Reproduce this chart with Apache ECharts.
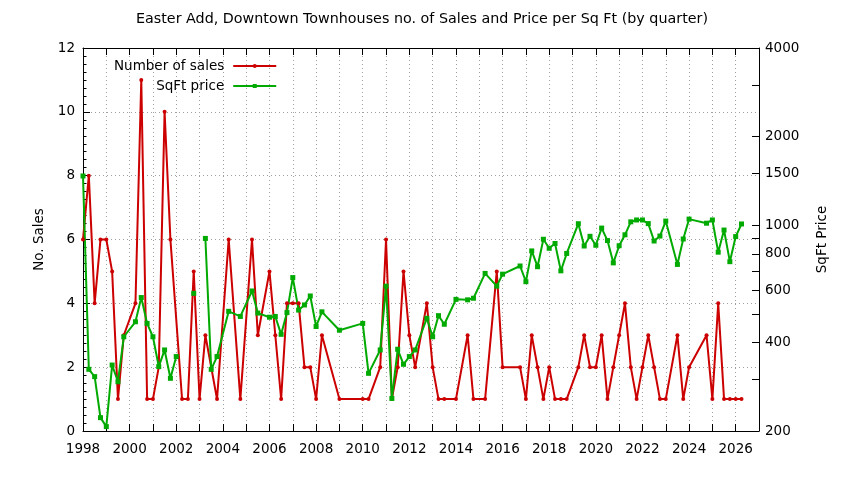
<!DOCTYPE html>
<html>
<head>
<meta charset="utf-8">
<script src="https://cdn.jsdelivr.net/npm/echarts@6/dist/echarts.min.js"></script>
<style>
  html, body { margin: 0; padding: 0; background: #fff; }
  #chart { width: 844px; height: 480px; }
</style>
</head>
<body>
<div id="chart"></div>
<script>
// quarterly sales counts
const salesYears = [
  1998.0, 1998.25, 1998.5, 1998.75,
  1999.0, 1999.25, 1999.5, 1999.75,
  2000.25, 2000.5, 2000.75,
  2001.0, 2001.25, 2001.5, 2001.75,
  2002.25, 2002.5, 2002.75,
  2003.0, 2003.25, 2003.75,
  2004.25, 2004.75,
  2005.25, 2005.5,
  2006.0, 2006.25, 2006.5, 2006.75,
  2007.0, 2007.25, 2007.5, 2007.75,
  2008.0, 2008.25,
  2009.0,
  2010.0, 2010.25, 2010.75,
  2011.0, 2011.25, 2011.5, 2011.75,
  2012.0, 2012.25, 2012.75,
  2013.0, 2013.25, 2013.5,
  2014.0, 2014.5, 2014.75,
  2015.25, 2015.75,
  2016.0, 2016.75,
  2017.0, 2017.25, 2017.5, 2017.75,
  2018.0, 2018.25, 2018.5, 2018.75,
  2019.25, 2019.5, 2019.75,
  2020.0, 2020.25, 2020.5, 2020.75,
  2021.0, 2021.25, 2021.5, 2021.75,
  2022.0, 2022.25, 2022.5, 2022.75,
  2023.0, 2023.5, 2023.75,
  2024.0, 2024.75,
  2025.0, 2025.25, 2025.5, 2025.75,
  2026.0, 2026.25
];
const salesCounts = [
  6, 8, 4, 6,
  6, 5, 1, 3,
  4, 11, 1,
  1, 2, 10, 6,
  1, 1, 5,
  1, 3, 1,
  6, 1,
  6, 3,
  5, 3, 1, 4,
  4, 4, 2, 2,
  1, 3,
  1,
  1, 1, 2,
  6, 1, 2, 5,
  3, 2, 4,
  2, 1, 1,
  1, 3, 1,
  1, 5,
  2, 2,
  1, 3, 2, 1,
  2, 1, 1, 1,
  2, 3, 2,
  2, 3, 1, 2,
  3, 4, 2, 1,
  2, 3, 2, 1,
  1, 3, 1,
  2, 3,
  1, 4, 1, 1,
  1, 1
];

// quarterly price per sq ft (null = no data, breaks the line)
const priceYears = [
  1998.0, 1998.25, 1998.5, 1998.75,
  1999.0, 1999.25, 1999.5, 1999.75,
  2000.25, 2000.5, 2000.75,
  2001.0, 2001.25, 2001.5, 2001.75,
  2002.0, 2002.5, 2002.75,
  2003.0, 2003.25, 2003.5, 2003.75,
  2004.25, 2004.75,
  2005.25, 2005.5,
  2006.0, 2006.25, 2006.5, 2006.75,
  2007.0, 2007.25, 2007.5, 2007.75,
  2008.0, 2008.25,
  2009.0,
  2010.0, 2010.25, 2010.75,
  2011.0, 2011.25, 2011.5, 2011.75,
  2012.0, 2012.25, 2012.75,
  2013.0, 2013.25, 2013.5,
  2014.0, 2014.5, 2014.75,
  2015.25, 2015.75,
  2016.0, 2016.75,
  2017.0, 2017.25, 2017.5, 2017.75,
  2018.0, 2018.25, 2018.5, 2018.75,
  2019.25, 2019.5, 2019.75,
  2020.0, 2020.25, 2020.5, 2020.75,
  2021.0, 2021.25, 2021.5, 2021.75,
  2022.0, 2022.25, 2022.5, 2022.75,
  2023.0, 2023.5, 2023.75,
  2024.0, 2024.75,
  2025.0, 2025.25, 2025.5, 2025.75,
  2026.0, 2026.25
];
const priceValues = [
  1470, 324, 306, 222,
  207, 335, 294, 418,
  470, 568, 464,
  418, 331, 377, 302,
  358, null, 587,
  null, 902, 324, 358,
  510, 490,
  598, 503,
  487, 490, 426, 505,
  664, 515, 536, 575,
  453, 508,
  440,
  464, 314, 377,
  621, 258, 379, 337,
  358, 377, 483,
  418, 493, 461,
  560, 558, 565,
  686, 621,
  682, 727,
  643, 818, 723, 896,
  835, 867, 700, 802,
  1012, 850, 917,
  855, 978, 887, 745,
  852, 928, 1027, 1042,
  1042, 1013, 884, 919,
  1033, 736, 898,
  1049, 1016,
  1042, 810, 963, 752,
  915, 1010
];

const priceLabelTicks = [200, 400, 600, 800, 1000, 1500, 2000, 4000];
const priceAllTicks = [200, 300, 400, 500, 600, 700, 800, 900, 1000, 1500, 2000, 3000, 4000];

const font = 'DejaVu Sans';
const fs = 13.5;
const black = '#000';
const dotted = { color: '#a0a0a0', width: 1, type: [1, 3] };

const chart = echarts.init(document.getElementById('chart'));

const option = {
  animation: false,
  backgroundColor: '#fff',
  textStyle: { fontFamily: font },
  title: {
    text: 'Easter Add, Downtown Townhouses no. of Sales and Price per Sq Ft (by quarter)',
    left: 'center',
    top: 7,
    textStyle: { fontFamily: font, fontSize: 14.3, fontWeight: 'normal', color: black }
  },
  legend: {
    orient: 'vertical',
    left: 109,
    top: 54,
    align: 'right',
    itemWidth: 43,
    itemHeight: 5,
    itemGap: 6,
    textStyle: { fontFamily: font, fontSize: fs, color: black, padding: [0, 4, 0, 0] },
    data: ['Number of sales', 'SqFt price']
  },
  grid: { left: 83, right: 85, top: 48, bottom: 49 },
  xAxis: [
    {
      type: 'value',
      position: 'bottom',
      min: 1998,
      max: 2027,
      interval: 1,
      axisLine: { show: true, lineStyle: { color: black, width: 1 } },
      axisTick: { show: true, inside: true, length: 7, lineStyle: { color: black } },
      axisLabel: {
        color: black, fontSize: fs, fontFamily: font, margin: 11,
        formatter: v => (v % 2 === 0 && v < 2027) ? String(v) : ''
      },
      splitLine: { show: true, lineStyle: dotted }
    },
    {
      type: 'value',
      position: 'top',
      min: 1998,
      max: 2027,
      interval: 1,
      axisLine: { show: true, lineStyle: { color: black, width: 1 } },
      axisTick: { show: true, inside: true, length: 7, lineStyle: { color: black } },
      axisLabel: { show: false },
      splitLine: { show: false }
    }
  ],
  yAxis: [
    {
      type: 'value',
      position: 'left',
      min: 0,
      max: 12,
      interval: 2,
      name: 'No. Sales',
      nameLocation: 'middle',
      nameRotate: 90,
      nameGap: 35,
      nameTextStyle: { fontFamily: font, fontSize: fs, color: black },
      axisLine: { show: true, lineStyle: { color: black, width: 1 } },
      axisTick: { show: true, inside: true, length: 7, lineStyle: { color: black } },
      minorTick: { show: true, splitNumber: 8, length: 3.5, lineStyle: { color: black } },
      axisLabel: { color: black, fontSize: fs, fontFamily: font, margin: 8 },
      splitLine: { show: true, lineStyle: dotted }
    },
    {
      type: 'log',
      logBase: 10,
      position: 'right',
      min: 200,
      max: 4000,
      name: 'SqFt Price',
      nameLocation: 'middle',
      nameRotate: 90,
      nameGap: 56,
      nameTextStyle: { fontFamily: font, fontSize: fs, color: black },
      axisLine: { show: true, lineStyle: { color: black, width: 1 } },
      axisTick: { show: true, inside: true, length: 7, customValues: priceAllTicks, lineStyle: { color: black } },
      axisLabel: {
        color: black, fontSize: fs, fontFamily: font, margin: 6,
        customValues: priceLabelTicks,
        formatter: v => String(Math.round(v))
      },
      splitLine: { show: false }
    }
  ],
  series: [
    {
      name: 'Number of sales',
      type: 'line',
      xAxisIndex: 0,
      yAxisIndex: 0,
      data: salesYears.map((x, i) => [x, salesCounts[i]]),
      symbol: 'circle',
      symbolSize: 4,
      showSymbol: true,
      color: '#cc0000',
      lineStyle: { color: '#cc0000', width: 2 },
      itemStyle: { color: '#cc0000' }
    },
    {
      name: 'SqFt price',
      type: 'line',
      xAxisIndex: 0,
      yAxisIndex: 1,
      data: priceYears.map((x, i) => [x, priceValues[i] == null ? '-' : priceValues[i]]),
      connectNulls: false,
      symbol: 'rect',
      symbolSize: 5,
      showSymbol: true,
      color: '#00aa00',
      lineStyle: { color: '#00aa00', width: 2 },
      itemStyle: { color: '#00aa00' }
    }
  ]
};

chart.setOption(option);
</script>
</body>
</html>
